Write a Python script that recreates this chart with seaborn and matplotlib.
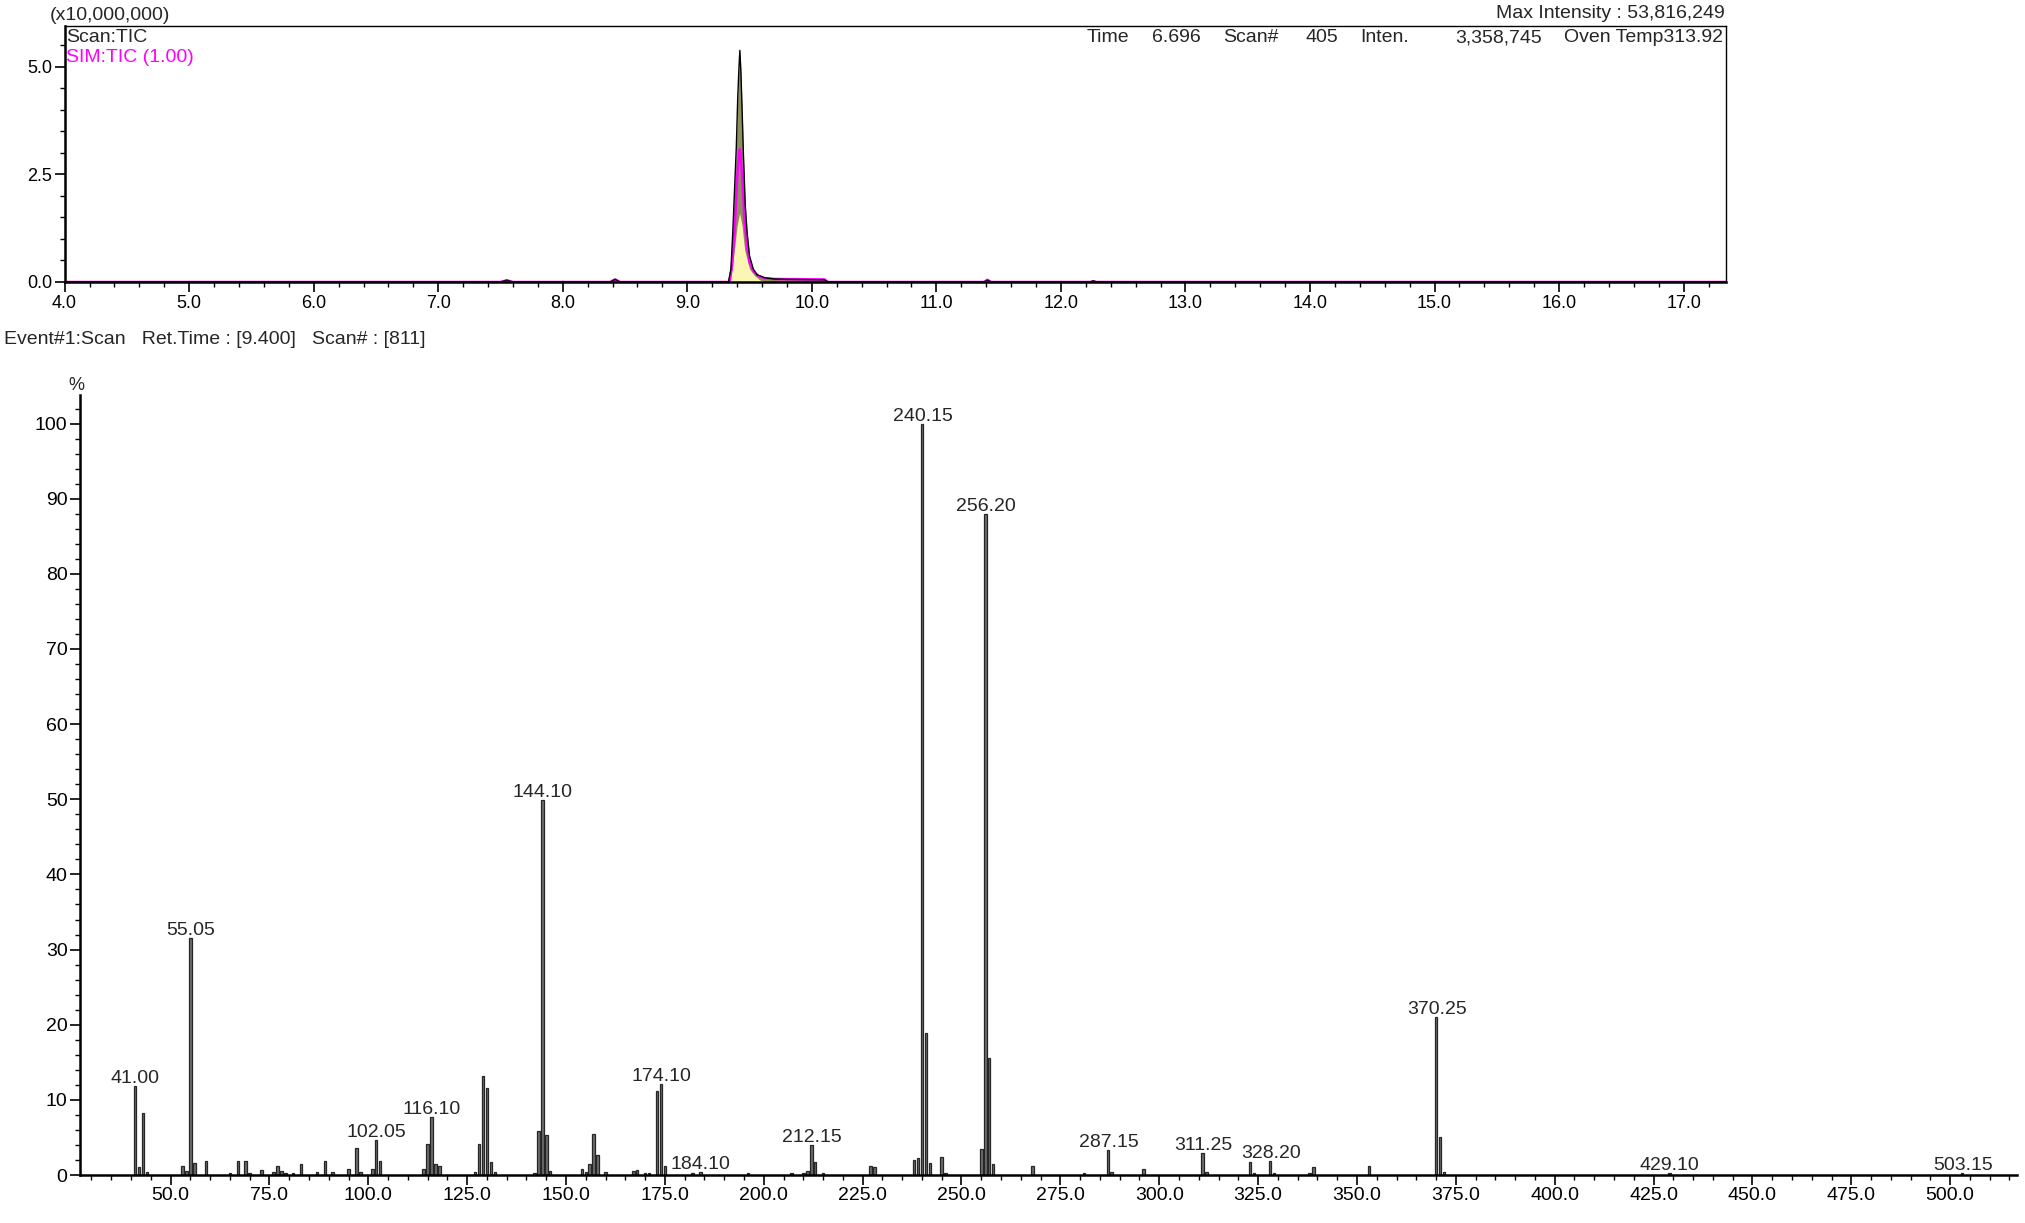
import numpy as np
import pandas as pd
import matplotlib
matplotlib.use("Agg")
import matplotlib.pyplot as plt
from matplotlib.ticker import MultipleLocator, FormatStrFormatter
import seaborn as sns

# --- chromatogram (x10,000,000) ---
tic_time = [4.00, 7.50, 7.55, 7.60, 7.97, 8.00, 8.03, 8.38, 8.42, 8.46, 9.33, 9.35, 9.365, 9.38,
            9.393, 9.405, 9.415, 9.422, 9.43, 9.44, 9.45, 9.465, 9.48, 9.50, 9.53, 9.56, 9.62,
            9.70, 9.80, 10.10, 10.13, 11.38, 11.41, 11.44, 12.23, 12.26, 12.29, 17.35]
tic_inten = [0.0, 0.0, 0.04, 0.0, 0.0, 0.01, 0.0, 0.0, 0.06, 0.0, 0.0, 0.3, 1.15, 2.2,
             3.1, 4.3, 5.0, 5.38, 4.9, 4.0, 3.0, 1.8, 1.15, 0.6, 0.3, 0.17, 0.1,
             0.07, 0.06, 0.05, 0.0, 0.0, 0.04, 0.0, 0.0, 0.03, 0.0, 0.0]

sim_time = [4.00, 7.50, 7.55, 7.60, 8.38, 8.42, 8.46, 9.34, 9.36, 9.38, 9.40, 9.415, 9.422,
            9.43, 9.445, 9.46, 9.48, 9.50, 9.53, 9.57, 9.62, 9.70, 10.10, 10.13, 11.38, 11.41,
            11.44, 17.35]
sim_inten = [0.0, 0.0, 0.04, 0.0, 0.0, 0.06, 0.0, 0.0, 0.4, 1.2, 2.4, 3.0, 3.08,
             2.9, 2.2, 1.4, 0.8, 0.45, 0.25, 0.14, 0.09, 0.07, 0.06, 0.0, 0.0, 0.05,
             0.0, 0.0]

area_time = [9.34, 9.36, 9.37, 9.40, 9.42, 9.44, 9.46, 9.50, 9.54, 9.58, 9.62]
area_inten = [0.0, 0.3, 0.55, 1.3, 1.6, 1.3, 0.75, 0.3, 0.15, 0.05, 0.0]

# --- mass spectrum, Ret.Time 9.400 ---
mz = [41, 42, 43, 44, 53, 54, 55, 56, 59, 65, 67, 69, 70, 73, 76, 77, 78, 79, 81, 83,
      87, 89, 91, 95, 97, 98, 101, 102, 103, 114, 115, 116, 117, 118, 127, 128, 129, 130,
      131, 132, 142, 143, 144, 145, 146, 154, 155, 156, 157, 158, 160, 167, 168, 170, 171,
      173, 174, 175, 182, 184, 196, 207, 210, 211, 212, 213, 215, 227, 228, 238, 239, 240,
      241, 242, 245, 246, 255, 256, 257, 258, 268, 281, 287, 288, 296, 311, 312, 323, 324,
      328, 329, 338, 339, 353, 370, 371, 372, 429, 503]
rel_int = [11.8, 1.0, 8.2, 0.4, 1.2, 0.5, 31.5, 1.6, 1.9, 0.3, 1.9, 1.9, 0.3, 0.6, 0.4, 1.2, 0.5, 0.3, 0.3, 1.5,
           0.4, 1.9, 0.4, 0.8, 3.6, 0.4, 0.8, 4.6, 1.9, 0.8, 4.1, 7.7, 1.5, 1.2, 0.4, 4.1, 13.2, 11.6,
           1.7, 0.4, 0.3, 5.8, 49.9, 5.3, 0.5, 0.8, 0.4, 1.4, 5.5, 2.6, 0.4, 0.5, 0.7, 0.3, 0.3,
           11.2, 12.1, 1.2, 0.3, 0.4, 0.2, 0.3, 0.3, 0.5, 4.0, 1.7, 0.3, 1.2, 1.0, 2.0, 2.2, 100.0,
           18.9, 1.6, 2.4, 0.2, 3.4, 88.0, 15.6, 1.5, 1.2, 0.3, 3.3, 0.4, 0.8, 2.9, 0.4, 1.7, 0.3,
           1.8, 0.3, 0.3, 1.1, 1.2, 21.0, 5.1, 0.4, 0.2, 0.2]

peak_labels = [41.00, 55.05, 102.05, 116.10, 144.10, 174.10, 184.10, 212.15, 240.15,
               256.20, 287.15, 311.25, 328.20, 370.25, 429.10, 503.15]

sns.set_style("ticks")
plt.rcParams['font.family'] = ['Liberation Sans', 'DejaVu Sans']
plt.rcParams['axes.edgecolor'] = 'black'
plt.rcParams['xtick.color'] = 'black'
plt.rcParams['ytick.color'] = 'black'

W, H = 2025, 1223
fig = plt.figure(figsize=(W / 100, H / 100), dpi=100)
ax_tic = fig.add_axes([64.6 / W, 1 - 282 / H, (1726 - 64.6) / W, (282 - 26) / H])
ax_ms = fig.add_axes([80 / W, 1 - 1175 / H, (2017 - 80) / W, (1175 - 395) / H])

# top: chromatogram
tic = pd.DataFrame({"time": tic_time, "inten": tic_inten})
sim = pd.DataFrame({"time": sim_time, "inten": sim_inten})
ax_tic.fill_between(tic_time, tic_inten, color="#8f8f5e", lw=0)
ax_tic.fill_between(area_time, area_inten, color="#fbf6b4", lw=0)
sns.lineplot(data=sim, x="time", y="inten", color="#ff00ff", lw=1.8, ax=ax_tic)
sns.lineplot(data=tic, x="time", y="inten", color="black", lw=1.0, ax=ax_tic)

ax_tic.set_xlim(4.0, 17.34)
ax_tic.set_ylim(0, 5.945)
ax_tic.xaxis.set_major_locator(MultipleLocator(1.0))
ax_tic.xaxis.set_minor_locator(MultipleLocator(0.2))
ax_tic.yaxis.set_major_locator(MultipleLocator(2.5))
ax_tic.yaxis.set_minor_locator(MultipleLocator(0.5))
ax_tic.xaxis.set_major_formatter(FormatStrFormatter("%.1f"))
ax_tic.yaxis.set_major_formatter(FormatStrFormatter("%.1f"))
ax_tic.tick_params(which="major", direction="out", length=7, width=1.2, labelsize=13, pad=2)
ax_tic.tick_params(which="minor", direction="out", length=3.5, width=1.0)
ax_tic.set_xlabel("")
ax_tic.set_ylabel("")
for s in ["top", "right"]:
    ax_tic.spines[s].set_linewidth(1.0)
for s in ["left", "bottom"]:
    ax_tic.spines[s].set_linewidth(1.8)

# bottom: mass spectrum
spec = pd.DataFrame({"mz": mz, "rel": rel_int})
sns.barplot(data=spec, x="mz", y="rel", native_scale=True, width=0.65, color="#6e6e6e",
            edgecolor="#262626", linewidth=0.9, saturation=1, errorbar=None, ax=ax_ms)
ax_ms.set_xlim(27.1, 516.9)
ax_ms.set_ylim(0, 103.8)
ax_ms.xaxis.set_major_locator(MultipleLocator(25))
ax_ms.xaxis.set_minor_locator(MultipleLocator(5))
ax_ms.yaxis.set_major_locator(MultipleLocator(10))
ax_ms.yaxis.set_minor_locator(MultipleLocator(2))
ax_ms.xaxis.set_major_formatter(FormatStrFormatter("%.1f"))
ax_ms.yaxis.set_major_formatter(FormatStrFormatter("%d"))
ax_ms.tick_params(which="major", direction="out", length=7, width=1.2, labelsize=14, pad=2)
ax_ms.tick_params(which="minor", direction="out", length=3.5, width=1.0)
ax_ms.set_xlabel("")
ax_ms.set_ylabel("")
sns.despine(ax=ax_ms)
for s in ["left", "bottom"]:
    ax_ms.spines[s].set_linewidth(1.8)

lookup = dict(zip(mz, rel_int))
for lab in peak_labels:
    ax_ms.text(lab, lookup[int(round(lab))] + 0.4, f"{lab:.2f}", ha="center", va="baseline",
               fontsize=14)

# header texts
fig.text(50 / W, 1 - 15 / H, "(x10,000,000)", ha="left", va="center", fontsize=14)
fig.text(1725 / W, 1 - 13 / H, "Max Intensity : 53,816,249", ha="right", va="center", fontsize=14)
fig.text(66 / W, 1 - 38 / H, "Scan:TIC", ha="left", va="center", fontsize=14)
fig.text(66 / W, 1 - 58 / H, "SIM:TIC (1.00)", ha="left", va="center", fontsize=14, color="#ff00ff")
info = [(1087, "Time"), (1152, "6.696"), (1223, "Scan#"), (1305, "405"), (1360, "Inten."),
        (1455, "3,358,745"), (1564, "Oven Temp313.92")]
for x, t in info:
    fig.text(x / W, 1 - 38 / H, t, ha="left", va="center", fontsize=14)
fig.text(4 / W, 1 - 339 / H, "Event#1:Scan   Ret.Time : [9.400]   Scan# : [811]",
         ha="left", va="center", fontsize=14)
fig.text(76 / W, 1 - 385 / H, "%", ha="center", va="center", fontsize=13)

fig.savefig("out.png", dpi=100)
